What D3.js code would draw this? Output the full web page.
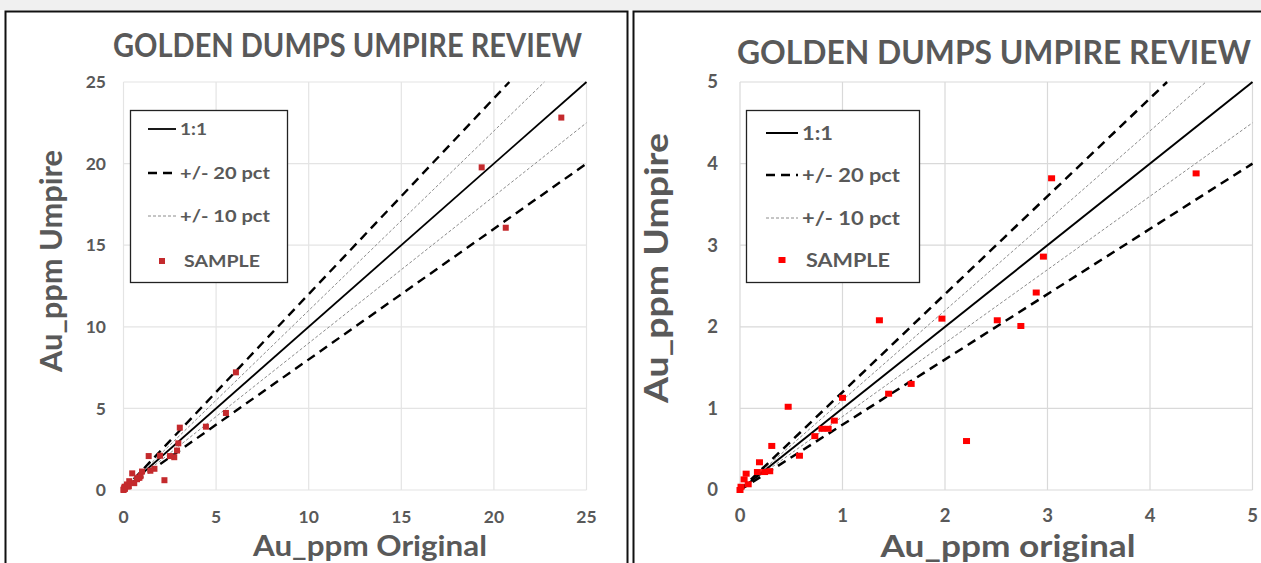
<!DOCTYPE html>
<html>
<head>
<meta charset="utf-8">
<script src="https://cdn.jsdelivr.net/npm/d3@7"></script>
<style>
  html, body { margin: 0; padding: 0; background: #ffffff; }
  svg { display: block; }
  text { font-family: Lato, "Open Sans", sans-serif; font-weight: bold; fill: #595959; }
</style>
</head>
<body>
<svg id="chart" width="1261" height="563"></svg>
<script>
// ---------------- DATA ----------------
const chartTitle = "GOLDEN DUMPS UMPIRE REVIEW";
const yAxisTitle = "Au_ppm Umpire";
const xAxisTitles = ["Au_ppm Original", "Au_ppm original"];
const legendLabels = ["1:1", "+/- 20 pct", "+/- 10 pct", "SAMPLE"];
const leftTicks = [0, 5, 10, 15, 20, 25];
const rightTicks = [0, 1, 2, 3, 4, 5];
// reference line slopes: 1:1, +20%, -20%, +10%, -10%
const slope11 = [1];
const slopes20 = [1.2, 0.8];
const slopes10 = [1.1, 0.9];
// samples (Au_ppm original, Au_ppm umpire)
const originalVals = [23.64, 19.34, 20.64, 6.07, 5.53,
  4.45, 3.04, 2.96, 2.89, 2.74, 2.51, 1.97, 1.36, 2.21, 1.67, 1.45, 1.00, 0.47,
  0.92, 0.86, 0.80, 0.73, 0.31, 0.58, 0.19, 0.29, 0.24, 0.17, 0.06, 0.04, 0.08, 0.01, 0.00];
const umpireVals = [22.82, 19.77, 16.07, 7.21, 4.72,
  3.88, 3.82, 2.86, 2.42, 2.01, 2.08, 2.10, 2.08, 0.60, 1.30, 1.18, 1.13, 1.02,
  0.85, 0.75, 0.75, 0.66, 0.54, 0.42, 0.34, 0.23, 0.22, 0.22, 0.20, 0.13, 0.07, 0.04, 0.00];
const samples = originalVals.map((v, i) => ({x: v, y: umpireVals[i]}));

// ---------------- LAYOUT ----------------
const svg = d3.select("#chart");
svg.append("rect").attr("x", 0).attr("y", 0).attr("width", 1261).attr("height", 563).attr("fill", "#ffffff");
svg.append("rect").attr("x", 0).attr("y", 0).attr("width", 1261).attr("height", 10).attr("fill", "#f0f0f0");

function fitText(sel, width) {
  const w = sel.node().getComputedTextLength();
  if (Math.abs(w - width) > 1) sel.attr("textLength", width).attr("lengthAdjust", "spacingAndGlyphs");
  return sel;
}

const panels = [
  {
    border: [5.5, 11.5, 622, 570],
    plot: {left: 123.5, right: 586.5, top: 82, bottom: 490},
    ticks: leftTicks,
    grid: "#e4e4e4",
    marker: "#c42a2d", msize: [6, 6],
    lw11: 1.8, lw20: 2.4, lw10: 1,
    title: {x: 113, w: 469, y: 57, size: 31.5},
    tickSize: 17.5, yTickX: 106, xTickY: 523,
    yTitle: {x: 62, cy: 261, w: 222, size: 30},
    xTitle: {cx: 370, y: 556, w: 234, size: 29},
    legend: {x: 130.5, y: 110.5, w: 157, h: 172, rows: [129, 173, 216, 261], lx0: 148, lx1: 176, tx: 180, size: 17, tw: [27, 90, 90, 76]}
  },
  {
    border: [633.5, 11.5, 640, 570],
    plot: {left: 740, right: 1252.5, top: 82, bottom: 490},
    ticks: rightTicks,
    grid: "#d9d9d9",
    marker: "#ff0000", msize: [7, 6],
    lw11: 2, lw20: 2.5, lw10: 1,
    title: {x: 737, w: 514, y: 64, size: 31.5},
    tickSize: 18.5, yTickX: 718, xTickY: 522,
    yTitle: {x: 668, cy: 268, w: 270, size: 33},
    xTitle: {cx: 1008, y: 557, w: 255, size: 30},
    legend: {x: 746.5, y: 110.5, w: 173, h: 172, rows: [133, 175, 218, 260], lx0: 766, lx1: 798, tx: 802, size: 19.5, tw: [31, 98, 98, 84]}
  }
];

panels.forEach((p, pi) => {
  const g = svg.append("g");
  const maxV = p.ticks[p.ticks.length - 1];
  const x = d3.scaleLinear().domain([0, maxV]).range([p.plot.left, p.plot.right]);
  const y = d3.scaleLinear().domain([0, maxV]).range([p.plot.bottom, p.plot.top]);

  // panel border
  g.append("rect").attr("x", p.border[0]).attr("y", p.border[1]).attr("width", p.border[2]).attr("height", p.border[3])
    .attr("fill", "none").attr("stroke", "#111").attr("stroke-width", 2);

  // gridlines
  g.append("g").selectAll("line.vg").data(p.ticks).join("line")
    .attr("x1", d => x(d)).attr("x2", d => x(d)).attr("y1", y(0)).attr("y2", y(maxV))
    .attr("stroke", p.grid).attr("stroke-width", 1.2);
  g.append("g").selectAll("line.hg").data(p.ticks).join("line")
    .attr("y1", d => y(d)).attr("y2", d => y(d)).attr("x1", x(0)).attr("x2", x(maxV))
    .attr("stroke", p.grid).attr("stroke-width", 1.2);

  // tick labels
  g.append("g").selectAll("text").data(p.ticks).join("text")
    .attr("x", p.yTickX).attr("y", d => y(d)).attr("dy", "0.35em")
    .attr("text-anchor", "end").attr("font-size", p.tickSize).text(d => d);
  g.append("g").selectAll("text").data(p.ticks).join("text")
    .attr("x", d => x(d)).attr("y", p.xTickY)
    .attr("text-anchor", "middle").attr("font-size", p.tickSize).text(d => d);

  // reference lines
  const line = d3.line().x(d => x(d[0])).y(d => y(d[1]));
  const refPts = s => { const xe = Math.min(maxV, maxV / s); return [[0, 0], [xe, s * xe]]; };
  const clipId = "clip" + pi;
  g.append("clipPath").attr("id", clipId).append("rect")
    .attr("x", p.plot.left).attr("y", p.plot.top - 2).attr("width", p.plot.right - p.plot.left + 2).attr("height", p.plot.bottom - p.plot.top + 4);
  const lines = g.append("g").attr("clip-path", `url(#${clipId})`);
  slopes10.forEach(s => lines.append("path").attr("d", line(refPts(s)))
    .attr("fill", "none").attr("stroke", "#8c8c8c").attr("stroke-width", p.lw10).attr("stroke-dasharray", "3,2"));
  slopes20.forEach(s => lines.append("path").attr("d", line(refPts(s)))
    .attr("fill", "none").attr("stroke", "#000").attr("stroke-width", p.lw20).attr("stroke-dasharray", "9,6"));
  slope11.forEach(s => lines.append("path").attr("d", line(refPts(s)))
    .attr("fill", "none").attr("stroke", "#000").attr("stroke-width", p.lw11));

  // samples
  const inRange = samples.filter(d => d.x <= maxV && d.y <= maxV);
  g.append("g").selectAll("rect").data(inRange).join("rect")
    .attr("x", d => x(d.x) - p.msize[0] / 2).attr("y", d => y(d.y) - p.msize[1] / 2)
    .attr("width", p.msize[0]).attr("height", p.msize[1]).attr("fill", p.marker);

  // title
  const t = g.append("text").attr("x", p.title.x).attr("y", p.title.y).attr("font-size", p.title.size).text(chartTitle);
  fitText(t, p.title.w);

  // axis titles
  const yt = g.append("text").attr("transform", `translate(${p.yTitle.x},${p.yTitle.cy}) rotate(-90)`)
    .attr("text-anchor", "middle").attr("font-size", p.yTitle.size).text(yAxisTitle);
  fitText(yt, p.yTitle.w);
  const xt = g.append("text").attr("x", p.xTitle.cx).attr("y", p.xTitle.y)
    .attr("text-anchor", "middle").attr("font-size", p.xTitle.size).text(xAxisTitles[pi]);
  fitText(xt, p.xTitle.w);

  // legend
  const L = p.legend;
  const lg = g.append("g");
  lg.append("rect").attr("x", L.x).attr("y", L.y).attr("width", L.w).attr("height", L.h)
    .attr("fill", "#fff").attr("stroke", "#222").attr("stroke-width", 1.3);
  const styles = [
    {stroke: "#000", w: p.lw11, dash: null},
    {stroke: "#000", w: p.lw20, dash: "9,6"},
    {stroke: "#8c8c8c", w: p.lw10, dash: "3,2"},
    null
  ];
  legendLabels.forEach((lab, i) => {
    const cy = L.rows[i];
    if (styles[i]) {
      lg.append("line").attr("x1", L.lx0).attr("x2", L.lx1).attr("y1", cy).attr("y2", cy)
        .attr("stroke", styles[i].stroke).attr("stroke-width", styles[i].w)
        .attr("stroke-dasharray", styles[i].dash);
    } else {
      lg.append("rect").attr("x", (L.lx0 + L.lx1) / 2 - p.msize[0] / 2).attr("y", cy - p.msize[1] / 2)
        .attr("width", p.msize[0]).attr("height", p.msize[1]).attr("fill", p.marker);
    }
    const tt = lg.append("text").attr("x", L.tx + (i === 3 ? 4 : 0)).attr("y", cy).attr("dy", "0.36em")
      .attr("font-size", L.size).text(lab);
    fitText(tt, L.tw[i]);
  });
});
</script>
</body>
</html>
